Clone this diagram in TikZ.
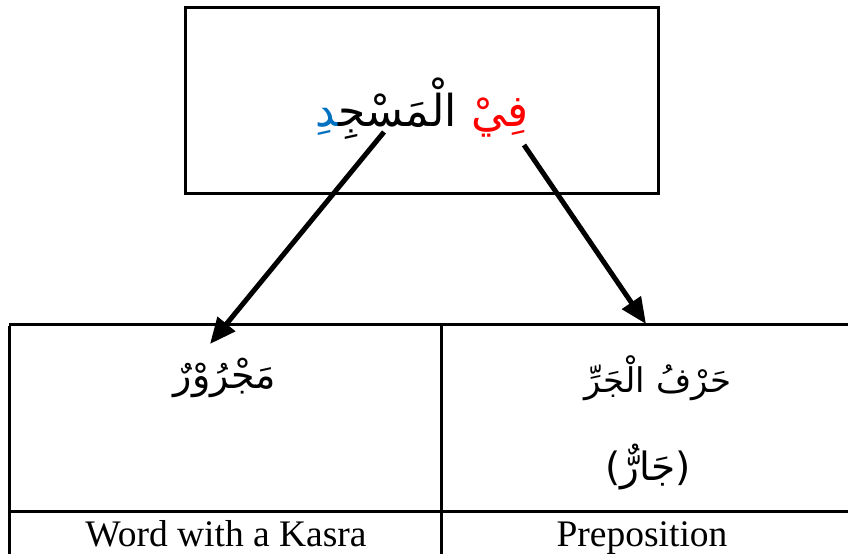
\documentclass[tikz,border=0pt]{standalone}
\usepackage{fontspec}
\usepackage{graphicx}
\setmainfont{Liberation Serif}
\newfontfamily\arabicfont[Script=Arabic]{DejaVu Sans}
\usetikzlibrary{arrows.meta}
\TeXXeTstate=1
\definecolor{kred}{RGB}{255,0,0}
\definecolor{kblue}{RGB}{0,112,192}
\tikzset{
  frame/.style={draw=black, line width=3pt},
  rule/.style={draw=black, line width=3pt},
  bigarrow/.style={draw=black, line width=5pt, -{Triangle[length=26pt,width=22pt]}},
  arlabel/.style={inner sep=0pt, font=\arabicfont\fontsize{34}{40}\selectfont},
  enlabel/.style={inner sep=0pt, anchor=base, font=\fontsize{37.5}{44}\selectfont}
}
\begin{document}
\begin{tikzpicture}[x=1pt,y=-1pt]
\useasboundingbox (0,0) rectangle (848,554);
\clip (0,0) rectangle (848,554);
% top box
\node[frame, minimum width=473pt, minimum height=186pt, inner sep=0pt, anchor=north west] (box) at (184,6) {};
% coloured pieces placed in visual order (left to right), joined with ZWJ
\node[inner sep=0pt, font=\arabicfont\fontsize{44}{52}\selectfont] (phrase) at (422,109)
  {{\color{kblue}‍دِ}{\color{black}الْمَسْجِ‍} {\color{kred}فِيْ}};
% table
\coordinate (tl) at (9,324);
\coordinate (tr) at (848,324);
\coordinate (bl) at (9,554);
\coordinate (dtop) at (441,324);
\coordinate (dbot) at (441,554);
\coordinate (ml) at (9,511);
\coordinate (mr) at (848,511);
\draw[rule] (tl) -- (tr);
\draw[rule] ([yshift=-1.5pt]tl) -- (bl);
\draw[rule] (dtop) -- (dbot);
\draw[rule] (ml) -- (mr);
% cell texts
\node[arlabel, font=\arabicfont\fontsize{38}{44}\selectfont] (majrur) at (225,378) {مَجْرُوْرٌ};
\node[arlabel] (harf) at (658,378) {\beginR حَرْفُ الْجَرِّ\endR};
\node[arlabel, font=\arabicfont\fontsize{39}{44}\selectfont] (jarr) at (648,467) {(جَارٌّ)};
\node[enlabel] (kasra) at (226,546) {Word with a Kasra};
\node[enlabel] (prep) at (642,546) {Preposition};
% arrows
\coordinate (s1) at (384,132);
\coordinate (t1) at (210,344);
\coordinate (s2) at (524,145);
\coordinate (t2) at (646,324);
\draw[bigarrow] (s1) -- (t1);
\draw[bigarrow] (s2) -- (t2);
\end{tikzpicture}
\end{document}
